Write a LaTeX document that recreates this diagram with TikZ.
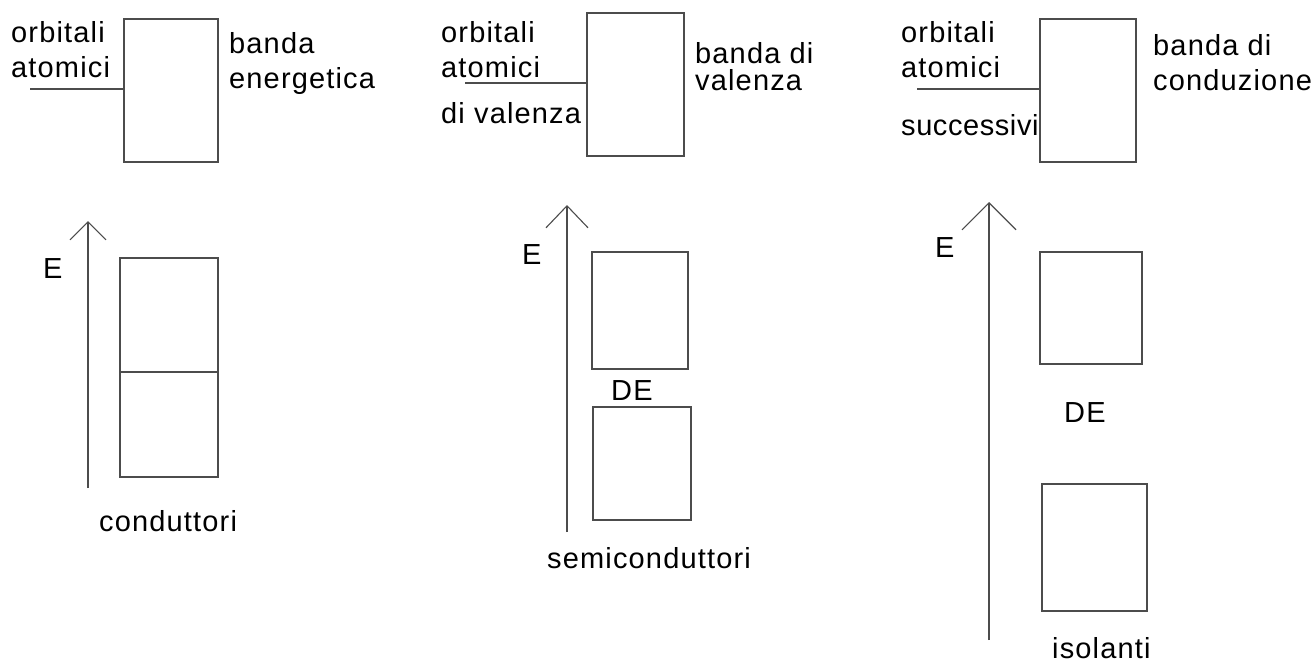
\documentclass[tikz,border=0pt]{standalone}
\usepackage{fontspec}
\setmainfont{Liberation Sans}[LetterSpace=4]
\newfontfamily\tightfont{Liberation Sans}[LetterSpace=2]
\usetikzlibrary{arrows.meta}
\definecolor{linecol}{gray}{0.3}
\tikzset{
  band/.style={draw=linecol, line width=1.1pt, inner sep=0pt, fill=none},
  lead/.style={draw=linecol, line width=1.1pt},
  axis/.style={draw=linecol, line width=1.1pt},
  lbl/.style={anchor=base west, inner sep=0pt, font=\fontsize{29}{34}\selectfont},
}
\begin{document}
\begin{tikzpicture}[x=1pt, y=-1pt]
\useasboundingbox (0,0) rectangle (1314,664);

% ---------- conduttori ----------
\node[band, minimum width=94pt, minimum height=143pt] (top1) at (171,90.5) {};
\coordinate (l1) at (30,89);
\draw[lead] (l1) -- (l1 -| top1.west);
\node[lbl] (o1) at (11,42) {orbitali};
\node[lbl] (a1) at (11,77) {atomici};
\node[lbl] (b1) at (229,53) {banda};
\node[lbl] (e1) at (229,88) {energetica};

\coordinate (ax1s) at (88,488);
\coordinate (ax1t) at (88,221);
\draw[axis, -{Straight Barb[length=18pt, width=36pt, line width=1.1pt]}] (ax1s) -- (ax1t);
\node[lbl] (E1) at (43,278) {E};
\node[band, minimum width=98pt, minimum height=114pt] (c1) at (169,315) {};
\node[band, minimum width=98pt, minimum height=105pt] (c2) at (169,424.5) {};
\node[lbl] (n1) at (99,531) {conduttori};

% ---------- semiconduttori ----------
\node[band, minimum width=97pt, minimum height=143pt] (top2) at (635.5,84.5) {};
\coordinate (l2) at (465,83);
\draw[lead] (l2) -- (l2 -| top2.west);
\node[lbl] (o2) at (441,42) {orbitali};
\node[lbl] (a2) at (441,77) {atomici};
\node[lbl] (v2) at (441,123) {di valenza};
\node[lbl] (b2) at (695,63) {banda di};
\node[lbl] (w2) at (695,90) {valenza};

\coordinate (ax2s) at (567,532);
\coordinate (ax2t) at (567,205);
\draw[axis, -{Straight Barb[length=22pt, width=42pt, line width=1.1pt]}] (ax2s) -- (ax2t);
\node[lbl] (E2) at (522,264) {E};
\node[band, minimum width=96pt, minimum height=117pt] (s1) at (640,310.5) {};
\node[lbl] (D2) at (611,400) {DE};
\node[band, minimum width=98pt, minimum height=113pt] (s2) at (642,463.5) {};
\node[lbl] (n2) at (547,568) {semiconduttori};

% ---------- isolanti ----------
\node[band, minimum width=96pt, minimum height=143pt] (top3) at (1088,90.5) {};
\coordinate (l3) at (917,89);
\draw[lead] (l3) -- (l3 -| top3.west);
\node[lbl] (o3) at (901,42) {orbitali};
\node[lbl] (a3) at (901,77) {atomici};
\node[lbl, font=\fontsize{29}{34}\tightfont] (v3) at (901,135) {successivi};
\node[lbl] (b3) at (1153,55) {banda di};
\node[lbl] (w3) at (1153,90) {conduzione};

\coordinate (ax3s) at (989,640);
\coordinate (ax3t) at (989,202);
\draw[axis, -{Straight Barb[length=27pt, width=54pt, line width=1.1pt]}] (ax3s) -- (ax3t);
\node[lbl] (E3) at (935,257) {E};
\node[band, minimum width=102pt, minimum height=112pt] (i1) at (1091,308) {};
\node[lbl] (D3) at (1064,422) {DE};
\node[band, minimum width=105pt, minimum height=127pt] (i2) at (1094.5,547.5) {};
\node[lbl] (n3) at (1052,658) {isolanti};
\end{tikzpicture}
\end{document}
